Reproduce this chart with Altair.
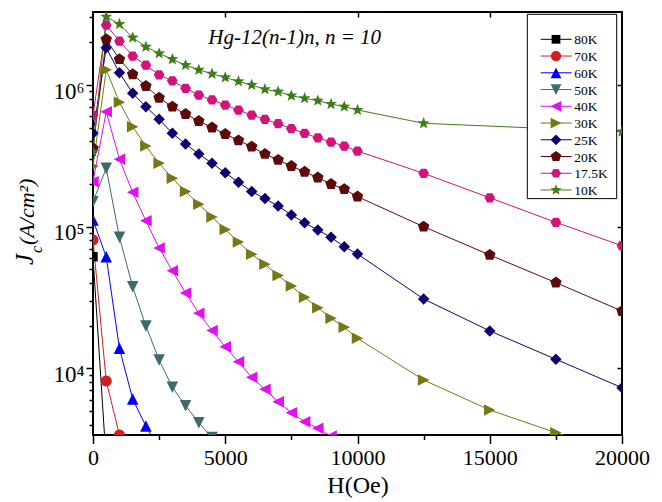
import math
import altair as alt
import pandas as pd

# ---------------- data ----------------
SERIES = ["80K", "70K", "60K", "50K", "40K", "30K", "25K", "20K", "17.5K", "10K"]
COLORS = ["#000000", "#D41E1E", "#0000FF", "#3D6B6B", "#E010F0",
          "#777718", "#120070", "#5C0A0A", "#D2147A", "#3E7C17"]

H_STEP = [0, 500, 1000, 1500, 2000, 2500, 3000, 3500, 4000, 4500, 5000,
          5500, 6000, 6500, 7000, 7500, 8000, 8500, 9000, 9500, 10000]
H_FULL = H_STEP + [12500, 15000, 17500, 20000]

H_80K = H_STEP[:2]
J_80K = [6.14e4, 2.2e3]
H_70K = H_STEP[:3]
J_70K = [8.06e4, 8.15e3, 3.39e3]
H_60K = H_STEP[:6]
J_60K = [1.115e5, 6.14e4, 1.386e4, 6.08e3, 3.92e3, 2.7e3]
H_50K = H_STEP[:11]
J_50K = [1.50e5, 2.58e5, 8.42e4, 3.77e4, 1.99e4, 1.147e4, 7.36e3, 5.45e3,
         4.14e3, 3.25e3, 2.6e3]
H_40K = H_STEP[:20]
J_40K = [2.08e5, 6.48e5, 2.99e5, 1.75e5, 1.10e5, 7.07e4, 4.89e4, 3.41e4,
         2.45e4, 1.85e4, 1.42e4, 1.115e4, 8.65e3, 7.12e3, 5.82e3, 4.87e3,
         4.21e3, 3.78e3, 3.33e3, 2.95e3]
H_30K = H_FULL
J_30K = [2.67e5, 1.28e6, 7.55e5, 5.08e5, 3.71e5, 2.80e5, 2.20e5, 1.77e5,
         1.44e5, 1.17e5, 9.55e4, 7.80e4, 6.39e4, 5.43e4, 4.52e4, 3.81e4,
         3.18e4, 2.68e4, 2.26e4, 1.95e4, 1.63e4, 8.28e3, 5.09e3, 3.52e3, 2.49e3]
H_25K = H_FULL
J_25K = [4.56e5, 1.83e6, 1.22e6, 8.74e5, 7.03e5, 5.73e5, 4.56e5, 3.83e5,
         3.26e5, 2.80e5, 2.40e5, 2.06e5, 1.77e5, 1.58e5, 1.40e5, 1.21e5,
         1.067e5, 9.48e4, 8.42e4, 7.22e4, 6.42e4, 3.09e4, 1.84e4, 1.16e4, 7.31e3]
H_20K = H_FULL
J_20K = [3.57e5, 2.10e6, 1.52e6, 1.19e6, 9.84e5, 8.13e5, 7.03e5, 6.24e5,
         5.57e5, 5.01e5, 4.51e5, 4.06e5, 3.67e5, 3.26e5, 2.96e5, 2.68e5,
         2.44e5, 2.22e5, 2.00e5, 1.84e5, 1.63e5, 1.0e5, 6.32e4, 4.03e4, 2.54e4]
H_17_5K = H_FULL
J_17_5K = [6.14e5, 2.65e6, 2.04e6, 1.60e6, 1.38e6, 1.18e6, 1.07e6, 9.48e5,
           8.50e5, 7.84e5, 7.22e5, 6.66e5, 6.14e5, 5.73e5, 5.33e5, 4.93e5,
           4.56e5, 4.24e5, 3.96e5, 3.71e5, 3.42e5, 2.38e5, 1.60e5, 1.074e5, 7.34e4]
H_10K = H_STEP + [12500, 20000]
J_10K = [3.37e5, 3.03e6, 2.69e6, 2.16e6, 1.86e6, 1.67e6, 1.52e6, 1.38e6,
         1.28e6, 1.20e6, 1.13e6, 1.06e6, 1.00e6, 9.33e5, 8.97e5, 8.40e5,
         8.06e5, 7.75e5, 7.34e5, 7.03e5, 6.66e5, 5.37e5, 4.68e5]

X_TICKS = [0, 2500, 5000, 7500, 10000, 12500, 15000, 17500, 20000]
Y_TICKS = [4000, 5000, 6000, 7000, 8000, 9000,
           10000, 20000, 30000, 40000, 50000, 60000, 70000, 80000, 90000,
           100000, 200000, 300000, 400000, 500000, 600000, 700000, 800000, 900000,
           1000000, 2000000, 3000000]

ANNOTATION = "Hg-12(n-1)n, n = 10"

series_data = [("80K", H_80K, J_80K), ("70K", H_70K, J_70K), ("60K", H_60K, J_60K),
               ("50K", H_50K, J_50K), ("40K", H_40K, J_40K), ("30K", H_30K, J_30K),
               ("25K", H_25K, J_25K), ("20K", H_20K, J_20K),
               ("17.5K", H_17_5K, J_17_5K), ("10K", H_10K, J_10K)]
rows = []
for name, hs, js in series_data:
    for h, j in zip(hs, js):
        rows.append({"T": name, "H": h, "J": j})
df = pd.DataFrame(rows)
legend_df = pd.DataFrame({"T": SERIES})

# ---------------- marker shapes (unit box) ----------------
def poly(pts):
    return "M" + "L".join(f"{x:.3f},{y:.3f}" for x, y in pts) + "Z"

def regular(n, r, start):
    return [(r * math.cos(math.radians(start + 360.0 * k / n)),
             r * math.sin(math.radians(start + 360.0 * k / n))) for k in range(n)]

def star(R, ratio=0.42):
    pts = []
    for k in range(10):
        r = R if k % 2 == 0 else R * ratio
        a = math.radians(-90 + 36 * k)
        pts.append((r * math.cos(a), r * math.sin(a)))
    return pts

s, t = 0.9, 1.1
SHAPES = [
    poly([(-s, -s), (s, -s), (s, s), (-s, s)]),          # square
    poly(regular(24, 1.05, 0)),                          # circle
    poly([(0, -t), (t, t), (-t, t)]),                    # triangle up
    poly([(-t, -t), (t, -t), (0, t)]),                   # triangle down
    poly([(-t, 0), (t, -t), (t, t)]),                    # triangle left
    poly([(t, 0), (-t, t), (-t, -t)]),                   # triangle right
    poly(regular(4, 1.1, -90)),                          # diamond
    poly(regular(5, 1.15, -90)),                         # pentagon
    poly(regular(6, 1.02, 0)),                           # hexagon
    poly(star(1.2)),                                     # star
]

FONT = "Liberation Serif"
W, H = 529, 423

xs = alt.Scale(domain=[0, 20000], nice=False, zero=False)
ys = alt.Scale(type="log", domain=[3390, 3.275e6], nice=False)
cs = alt.Scale(domain=SERIES, range=COLORS)
ss = alt.Scale(domain=SERIES, range=SHAPES)
leg_y = alt.Scale(type="point", domain=SERIES, range=[27.3, 178], padding=0)

x_axis = alt.Axis(values=X_TICKS, format="d", title="H(Oe)",
                  labelExpr="datum.value % 5000 == 0 ? datum.label : ''",
                  tickSize={"condition": {"test": "datum.value % 5000 == 0", "value": 8.5}, "value": 4.5},
                  labelFlush=False, labelOverlap=False, labelPadding=4,
                  labelFontSize=22, titleFontSize=24, titlePadding=5,
                  titleFontWeight="normal", domain=False, grid=False)
y_axis = alt.Axis(values=Y_TICKS, title=None,
                  labelExpr="datum.value == 10000 ? '10\u2074' : datum.value == 100000 ? '10\u2075' : datum.value == 1000000 ? '10\u2076' : ''",
                  tickSize={"condition": {"test": "datum.value == 10000 || datum.value == 100000 || datum.value == 1000000", "value": 7}, "value": 4},
                  labelFlush=False, labelOverlap=False, labelPadding=2, labelOffset=6,
                  labelFontSize=23, domain=False, grid=False)
x_top = alt.Axis(orient="top", values=[5000, 10000, 15000], labels=False, title=None,
                 tickSize={"expr": "-5"}, domain=False, grid=False)
y_right = alt.Axis(orient="right", values=[10000, 100000, 1000000], labels=False, title=None,
                   tickSize={"expr": "-5"}, domain=False, grid=False)

lines = alt.Chart(df).mark_line(strokeWidth=1, clip=True).encode(
    x=alt.X("H:Q", scale=xs, axis=x_axis),
    y=alt.Y("J:Q", scale=ys, axis=y_axis),
    color=alt.Color("T:N", scale=cs, legend=None),
)

points = alt.Chart(df).mark_point(filled=True, size=110, opacity=1, clip=True).encode(
    x=alt.X("H:Q", scale=xs, axis=x_top),
    y=alt.Y("J:Q", scale=ys, axis=y_right),
    color=alt.Color("T:N", scale=cs, legend=None),
    shape=alt.Shape("T:N", scale=ss, legend=None),
)

# ---------------- legend (drawn from the series list) ----------------
legend_box = alt.Chart(pd.DataFrame({"k": [0]})).mark_rect(
    fill="white", stroke="black", strokeWidth=1
).encode(x=alt.value(434.3), x2=alt.value(523.7), y=alt.value(2.3), y2=alt.value(186.6))

legend_lines = alt.Chart(legend_df).mark_rule(strokeWidth=1).encode(
    x=alt.value(447.7), x2=alt.value(478.7),
    y=alt.Y("T:N", scale=leg_y, axis=None),
    color=alt.Color("T:N", scale=cs, legend=None),
)
legend_marks = alt.Chart(legend_df).mark_point(filled=True, size=95, opacity=1).encode(
    x=alt.value(463.0),
    y=alt.Y("T:N", scale=leg_y, axis=None),
    color=alt.Color("T:N", scale=cs, legend=None),
    shape=alt.Shape("T:N", scale=ss, legend=None),
)
legend_text = alt.Chart(legend_df).mark_text(
    font=FONT, fontSize=13.5, align="left", baseline="middle", color="black", dy=1
).encode(
    x=alt.value(481.3),
    y=alt.Y("T:N", scale=leg_y, axis=None),
    text="T:N",
)

def label(text, x, y, size, angle=0, italic=True):
    return alt.Chart(pd.DataFrame({"k": [0]})).mark_text(
        text=text, font=FONT, fontSize=size, fontStyle="italic" if italic else "normal",
        align="left", baseline="alphabetic", angle=angle, color="black"
    ).encode(x=alt.value(x), y=alt.value(y))

annot = label(ANNOTATION, 115.3, 32, 21)
yt_j = label("J", -60, 253, 25, angle=270)
yt_c = label("c", -51.5, 241, 16, angle=270)
yt_u = label("(A/cm\u00b2)", -59.5, 233, 22, angle=270)

chart = alt.layer(
    lines, points, legend_box, legend_lines, legend_marks, legend_text,
    annot, yt_j, yt_c, yt_u
).resolve_scale(
    y="independent"
).resolve_axis(
    x="independent", y="independent"
).properties(
    width=W, height=H,
    autosize=alt.AutoSizeParams(type="none"),
    padding={"left": 85, "top": 4, "right": 30, "bottom": 66},
).configure_view(
    stroke="black", strokeWidth=2
).configure_axis(
    labelFont=FONT, titleFont=FONT, labelColor="black", titleColor="black",
    tickColor="black", tickWidth=1.5
)

chart.save("out.html", embed_options={"renderer": "svg", "actions": False})
